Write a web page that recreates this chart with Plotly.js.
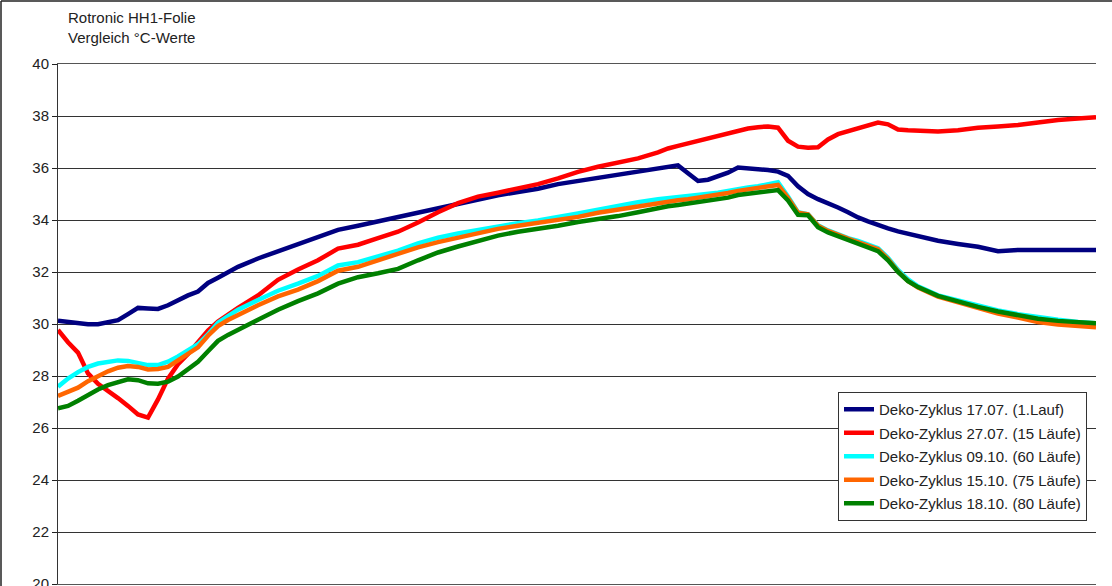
<!DOCTYPE html>
<html>
<head>
<meta charset="utf-8">
<script src="https://cdn.plot.ly/plotly-3.0.1.min.js"></script>
<style>
  html, body { margin: 0; padding: 0; background: #fff; }
  #chart { width: 1112px; height: 586px; }
</style>
</head>
<body>
<div id="chart"></div>
<script>
// Zeitachse (Messpunkte, Minuten ab Start)
const zeit = [
  0, 5, 10, 15, 20, 25, 30, 35, 40, 45, 50, 55, 60, 65, 70, 75, 80, 85, 90,
  100, 110, 120, 130, 140, 150, 160, 170, 180, 190, 200, 210, 220, 230, 240, 250, 260, 270, 280, 290, 300,
  305, 310, 315, 320, 325, 330, 335, 340, 345, 350, 355, 360, 365, 370, 375, 380, 385, 390, 395, 400,
  405, 410, 415, 420, 425, 430,
  440, 450, 460, 470, 480, 490, 500, 510, 519
];

const serienNamen = [
  'Deko-Zyklus 17.07. (1.Lauf)',
  'Deko-Zyklus 27.07. (15 Läufe)',
  'Deko-Zyklus 09.10. (60 Läufe)',
  'Deko-Zyklus 15.10. (75 Läufe)',
  'Deko-Zyklus 18.10. (80 Läufe)'
];

// Temperaturen in °C
const zyklus1707 = [
  30.13, 30.08, 30.03, 29.99, 29.99, 30.05, 30.15, 30.38, 30.62, 30.60, 30.58, 30.72, 30.92, 31.10, 31.25, 31.58, 31.78, 32.00, 32.20,
  32.52, 32.80, 33.10, 33.36, 33.62, 33.78, 33.95, 34.10, 34.26, 34.45, 34.62, 34.80, 34.95, 35.08, 35.20, 35.38, 35.50, 35.62, 35.70, 35.85, 35.95,
  36.00, 36.10, 35.80, 35.50, 35.55, 35.70, 35.82, 36.02, 36.00, 35.95, 35.92, 35.86, 35.70, 35.30, 35.00, 34.80, 34.65, 34.48, 34.30, 34.10,
  33.95, 33.80, 33.68, 33.56, 33.46, 33.38,
  33.20, 33.08, 32.97, 32.80, 32.85, 32.85, 32.85, 32.85, 32.85
];

const zyklus2707 = [
  29.77, 29.30, 28.90, 28.10, 27.70, 27.45, 27.15, 26.85, 26.52, 26.40, 27.10, 27.90, 28.45, 28.85, 29.30, 29.75, 30.10, 30.38, 30.62,
  31.10, 31.70, 32.10, 32.45, 32.90, 33.05, 33.30, 33.55, 33.90, 34.30, 34.65, 34.90, 35.05, 35.20, 35.38, 35.60, 35.85, 36.05, 36.20, 36.37, 36.60,
  36.75, 36.85, 36.95, 37.05, 37.15, 37.25, 37.35, 37.45, 37.52, 37.57, 37.60, 37.55, 37.05, 36.82, 36.78, 36.80, 37.10, 37.30, 37.42, 37.52,
  37.62, 37.75, 37.68, 37.48, 37.45, 37.42,
  37.40, 37.45, 37.55, 37.60, 37.65, 37.75, 37.85, 37.90, 37.95
];

const zyklus0910 = [
  27.59, 27.90, 28.15, 28.35, 28.48, 28.56, 28.60, 28.58, 28.52, 28.42, 28.42, 28.55, 28.75, 29.00, 29.22, 29.60, 30.05, 30.30, 30.55,
  30.92, 31.28, 31.55, 31.85, 32.25, 32.38, 32.60, 32.82, 33.10, 33.32, 33.48, 33.62, 33.74, 33.88, 33.98, 34.10, 34.25, 34.40, 34.55, 34.68, 34.80,
  34.84, 34.88, 34.92, 34.95, 35.00, 35.05, 35.12, 35.20, 35.25, 35.30, 35.38, 35.45, 34.90, 34.30, 34.22, 33.80, 33.60, 33.45, 33.30, 33.20,
  33.05, 32.92, 32.55, 32.08, 31.72, 31.45,
  31.10, 30.90, 30.70, 30.52, 30.38, 30.26, 30.16, 30.08, 30.03
];

const zyklus1510 = [
  27.23, 27.38, 27.55, 27.80, 28.00, 28.18, 28.32, 28.38, 28.35, 28.25, 28.27, 28.35, 28.60, 28.85, 29.10, 29.55, 29.92, 30.15, 30.35,
  30.72, 31.06, 31.32, 31.65, 32.05, 32.20, 32.45, 32.68, 32.95, 33.15, 33.32, 33.50, 33.66, 33.78, 33.88, 33.98, 34.12, 34.28, 34.40, 34.52, 34.68,
  34.72, 34.76, 34.80, 34.85, 34.90, 34.96, 35.04, 35.12, 35.17, 35.22, 35.28, 35.35, 34.85, 34.28, 34.22, 33.78, 33.58, 33.42, 33.28, 33.15,
  33.00, 32.88, 32.50, 32.02, 31.65, 31.40,
  31.05, 30.82, 30.60, 30.40, 30.25, 30.08, 29.98, 29.92, 29.87
];

const zyklus1810 = [
  26.76, 26.85, 27.05, 27.28, 27.48, 27.65, 27.78, 27.87, 27.84, 27.72, 27.70, 27.78, 27.98, 28.28, 28.55, 28.95, 29.35, 29.58, 29.78,
  30.18, 30.55, 30.88, 31.18, 31.55, 31.80, 31.95, 32.12, 32.45, 32.75, 32.98, 33.18, 33.40, 33.55, 33.65, 33.78, 33.92, 34.02, 34.15, 34.30, 34.48,
  34.53, 34.58, 34.63, 34.68, 34.72, 34.78, 34.86, 34.96, 35.00, 35.05, 35.10, 35.15, 34.75, 34.20, 34.18, 33.72, 33.52, 33.38, 33.22, 33.10,
  32.95, 32.80, 32.45, 32.00, 31.65, 31.42,
  31.08, 30.85, 30.66, 30.48, 30.34, 30.20, 30.12, 30.08, 30.03
];

const yTicks = [20, 22, 24, 26, 28, 30, 32, 34, 36, 38, 40];

const serienWerte = [zyklus1707, zyklus2707, zyklus0910, zyklus1510, zyklus1810];
const serienFarben = ['#000080', '#ff0000', '#00ffff', '#ff6600', '#008000'];

const traces = serienWerte.map((werte, i) => ({
  x: zeit,
  y: werte,
  type: 'scatter',
  mode: 'lines',
  name: serienNamen[i],
  legendgroup: 'g' + i,
  line: { color: serienFarben[i], width: 4.5, shape: 'linear' },
  hoverinfo: 'skip'
}));

const schrift = 'Liberation Sans, Arial, sans-serif';

const layout = {
  width: 1112,
  height: 586,
  margin: { l: 58, r: 16, t: 64, b: 2, pad: 0 },
  paper_bgcolor: '#ffffff',
  plot_bgcolor: '#ffffff',
  font: { family: schrift, size: 15, color: '#222222' },
  xaxis: {
    range: [0, 519],
    showticklabels: false,
    ticks: '',
    showgrid: false,
    zeroline: false,
    showline: true,
    linecolor: '#555555',
    linewidth: 1,
    mirror: true,
    fixedrange: true
  },
  yaxis: {
    range: [20, 40],
    tickvals: yTicks,
    ticktext: yTicks.map(String),
    ticks: 'outside',
    ticklen: 5,
    tickcolor: '#222222',
    tickfont: { family: schrift, size: 15, color: '#222222' },
    ticklabeloverflow: 'allow',
    showgrid: true,
    gridcolor: '#333333',
    gridwidth: 1,
    zeroline: false,
    showline: true,
    linecolor: '#333333',
    linewidth: 1,
    fixedrange: true
  },
  showlegend: true,
  legend: {
    x: (838 - 58) / 1038,
    y: (584 - 392) / 520,
    xanchor: 'left',
    yanchor: 'top',
    bgcolor: '#ffffff',
    bordercolor: '#333333',
    borderwidth: 1,
    font: { family: schrift, size: 15, color: '#222222' },
    tracegroupgap: 1,
    itemclick: false,
    itemdoubleclick: false
  },
  annotations: [
    {
      text: 'Rotronic HH1-Folie<br>Vergleich °C-Werte',
      xref: 'paper', yref: 'paper',
      x: 8 / 1038, y: (584 - 7) / 520,
      xanchor: 'left', yanchor: 'top',
      align: 'left',
      showarrow: false,
      font: { family: schrift, size: 15, color: '#222222' }
    }
  ],
  shapes: [
    // Rahmen der Gesamtgrafik (oben und links)
    { type: 'line', xref: 'paper', yref: 'paper',
      x0: -57 / 1038, x1: 1112 / 1038, y0: 583 / 520, y1: 583 / 520,
      line: { color: '#222222', width: 1.5 } },
    { type: 'line', xref: 'paper', yref: 'paper',
      x0: -57 / 1038, x1: -57 / 1038, y0: -2 / 520, y1: 583 / 520,
      line: { color: '#222222', width: 1.5 } }
  ]
};

Plotly.newPlot('chart', traces, layout, { staticPlot: true, displayModeBar: false });
</script>
</body>
</html>
